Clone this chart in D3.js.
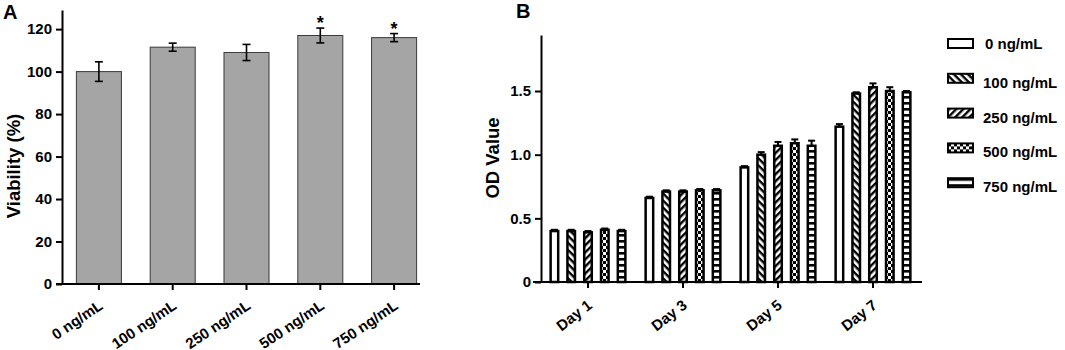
<!DOCTYPE html>
<html>
<head>
<meta charset="utf-8">
<script src="https://cdn.jsdelivr.net/npm/d3@7"></script>
<style>
  body { margin: 0; background: #fff; }
  svg { font-family: "Liberation Sans", Arial, sans-serif; font-weight: bold; }
  .axis path, .axis line { stroke: #000; stroke-width: 2; }
  .axis text { fill: #000; font-weight: bold; }
</style>
</head>
<body>
<script>
// panel A data
var doses = ['0 ng/mL', '100 ng/mL', '250 ng/mL', '500 ng/mL', '750 ng/mL'];
var viability = [100, 111.5, 109, 117, 116];
var viabilityErr = [4.6, 1.9, 3.8, 3.5, 1.9];
var starred = [false, false, false, true, true];
var viabilityTicks = [0, 20, 40, 60, 80, 100, 120];

// panel B data
var days = ['Day 1', 'Day 3', 'Day 5', 'Day 7'];
var odSeries = ['0 ng/mL', '100 ng/mL', '250 ng/mL', '500 ng/mL', '750 ng/mL'];
var odValues = [
  [0.40, 0.40, 0.39, 0.41, 0.40],   // Day 1
  [0.66, 0.71, 0.71, 0.72, 0.72],   // Day 3
  [0.90, 1.00, 1.07, 1.09, 1.07],   // Day 5
  [1.22, 1.48, 1.53, 1.50, 1.49]    // Day 7
];
var odErr = [
  [0.01, 0.01, 0.01, 0.01, 0.01],
  [0.01, 0.01, 0.01, 0.01, 0.01],
  [0.01, 0.02, 0.03, 0.03, 0.04],
  [0.02, 0.01, 0.03, 0.03, 0.01]
];
var odTicks = [0, 0.5, 1.0, 1.5];

var svg = d3.select('body').append('svg')
  .attr('width', 1065)
  .attr('height', 350);

var defs = svg.append('defs');

// fill patterns for panel B
function stripes(id, angle) {
  var p = defs.append('pattern')
    .attr('id', id)
    .attr('patternUnits', 'userSpaceOnUse')
    .attr('width', 5).attr('height', 5)
    .attr('patternTransform', 'rotate(' + angle + ')');
  p.append('rect').attr('width', 5).attr('height', 5).attr('fill', '#fff');
  p.append('rect').attr('width', 5).attr('height', 2.4).attr('fill', '#000');
}
stripes('p100', 45);
stripes('p250', -45);

var chk = defs.append('pattern')
  .attr('id', 'p500')
  .attr('patternUnits', 'userSpaceOnUse')
  .attr('width', 6).attr('height', 6);
chk.append('rect').attr('width', 6).attr('height', 6).attr('fill', '#fff');
chk.append('rect').attr('width', 3).attr('height', 3).attr('fill', '#000');
chk.append('rect').attr('x', 3).attr('y', 3).attr('width', 3).attr('height', 3).attr('fill', '#000');

var hz = defs.append('pattern')
  .attr('id', 'p750')
  .attr('patternUnits', 'userSpaceOnUse')
  .attr('width', 6).attr('height', 6);
hz.append('rect').attr('width', 6).attr('height', 6).attr('fill', '#fff');
hz.append('rect').attr('width', 6).attr('height', 2.6).attr('fill', '#000');

var fills = ['#fff', 'url(#p100)', 'url(#p250)', 'url(#p500)', 'url(#p750)'];

// ---------------- panel A ----------------
var xA = d3.scaleBand()
  .domain(doses)
  .range([62, 431])
  .paddingInner(0.39)
  .paddingOuter(0.195);

var yA = d3.scaleLinear()
  .domain([0, 129])
  .range([284, 10]);

var gA = svg.append('g');

gA.selectAll('rect.bar')
  .data(viability)
  .enter().append('rect')
  .attr('class', 'bar')
  .attr('x', function (d, i) { return xA(doses[i]); })
  .attr('y', function (d) { return yA(d); })
  .attr('width', xA.bandwidth())
  .attr('height', function (d) { return yA(0) - yA(d); })
  .attr('fill', '#a5a5a5')
  .attr('stroke', '#3a3a3a')
  .attr('stroke-width', 1);

// error bars
var errA = gA.selectAll('g.err')
  .data(viability)
  .enter().append('g')
  .attr('class', 'err')
  .attr('stroke', '#000')
  .attr('stroke-width', 1.6);
errA.append('line')
  .attr('x1', function (d, i) { return xA(doses[i]) + xA.bandwidth() / 2; })
  .attr('x2', function (d, i) { return xA(doses[i]) + xA.bandwidth() / 2; })
  .attr('y1', function (d, i) { return yA(d - viabilityErr[i]); })
  .attr('y2', function (d, i) { return yA(d + viabilityErr[i]); });
[1, -1].forEach(function (s) {
  errA.append('line')
    .attr('x1', function (d, i) { return xA(doses[i]) + xA.bandwidth() / 2 - 4; })
    .attr('x2', function (d, i) { return xA(doses[i]) + xA.bandwidth() / 2 + 4; })
    .attr('y1', function (d, i) { return yA(d + s * viabilityErr[i]); })
    .attr('y2', function (d, i) { return yA(d + s * viabilityErr[i]); });
});

// significance stars
var starData = viability
  .map(function (v, i) { return { name: doses[i], top: v + viabilityErr[i], on: starred[i] }; })
  .filter(function (d) { return d.on; });
gA.selectAll('text.star')
  .data(starData)
  .enter().append('text')
  .attr('class', 'star')
  .attr('x', function (d) { return xA(d.name) + xA.bandwidth() / 2; })
  .attr('y', function (d) { return yA(d.top) + 1; })
  .attr('text-anchor', 'middle')
  .attr('font-size', 18)
  .text('*');

// axes A
var yAxisA = d3.axisLeft(yA).tickValues(viabilityTicks).tickSize(6).tickSizeOuter(0);
gA.append('g')
  .attr('class', 'axis')
  .attr('transform', 'translate(62,0)')
  .call(yAxisA)
  .selectAll('text').attr('font-size', 15).attr('dx', -1);

var xAxisA = d3.axisBottom(xA).tickSize(6).tickSizeOuter(0);
var gxA = gA.append('g')
  .attr('class', 'axis')
  .attr('transform', 'translate(0,284)')
  .call(xAxisA);
gxA.select('.domain').remove();
gxA.append('line')
  .attr('x1', 56).attr('x2', 420)
  .attr('stroke', '#000').attr('stroke-width', 2);
gxA.selectAll('text')
  .attr('font-size', 15)
  .attr('text-anchor', 'end')
  .attr('y', 0)
  .attr('dy', 0)
  .attr('transform', 'translate(5,24) rotate(-34)');

gA.append('text')
  .attr('transform', 'translate(20,166) rotate(-90)')
  .attr('text-anchor', 'middle')
  .attr('font-size', 18.5)
  .text('Viability (%)');

gA.append('text')
  .attr('x', 3).attr('y', 19)
  .attr('font-size', 20)
  .text('A');

// ---------------- panel B ----------------
var xB = d3.scaleBand()
  .domain(days)
  .range([540.5, 920.5])
  .paddingInner(0.116)
  .paddingOuter(0.058);

var xSub = d3.scaleBand()
  .domain(odSeries)
  .range([0, xB.bandwidth()])
  .paddingInner(0.55)
  .paddingOuter(0.275);

var yB = d3.scaleLinear()
  .domain([0, 1.94])
  .range([282, 35]);

var gB = svg.append('g');

var groups = gB.selectAll('g.day')
  .data(odValues)
  .enter().append('g')
  .attr('class', 'day')
  .attr('transform', function (d, i) { return 'translate(' + xB(days[i]) + ',0)'; });

// error bars (drawn first so the bar outline covers the lower half)
groups.selectAll('g.err')
  .data(function (d, i) { return d.map(function (v, j) { return { v: v, e: odErr[i][j], s: odSeries[j] }; }); })
  .enter().append('g')
  .attr('class', 'err')
  .attr('stroke', '#000')
  .attr('stroke-width', 2)
  .each(function (d) {
    var cx = xSub(d.s) + xSub.bandwidth() / 2;
    var g = d3.select(this);
    g.append('line').attr('x1', cx).attr('x2', cx).attr('y1', yB(d.v)).attr('y2', yB(d.v + d.e));
    g.append('line').attr('x1', cx - 3.5).attr('x2', cx + 3.5).attr('y1', yB(d.v + d.e)).attr('y2', yB(d.v + d.e));
  });

groups.selectAll('rect')
  .data(function (d) { return d; })
  .enter().append('rect')
  .attr('x', function (d, j) { return xSub(odSeries[j]); })
  .attr('y', function (d) { return yB(d); })
  .attr('width', xSub.bandwidth())
  .attr('height', function (d) { return yB(0) - yB(d); })
  .attr('fill', function (d, j) { return fills[j]; })
  .attr('stroke', '#000')
  .attr('stroke-width', 2.5);

// axes B
var yAxisB = d3.axisLeft(yB)
  .tickValues(odTicks)
  .tickFormat(function (d) { return d === 0 ? '0' : d3.format('.1f')(d); })
  .tickSize(6).tickSizeOuter(0);
gB.append('g')
  .attr('class', 'axis')
  .attr('transform', 'translate(541,0)')
  .call(yAxisB)
  .selectAll('text').attr('font-size', 15).attr('dx', -1);

var xAxisB = d3.axisBottom(xB).tickSize(6).tickSizeOuter(0);
var gxB = gB.append('g')
  .attr('class', 'axis')
  .attr('transform', 'translate(0,282)')
  .call(xAxisB);
gxB.select('.domain').remove();
gxB.append('line')
  .attr('x1', 533).attr('x2', 922)
  .attr('stroke', '#000').attr('stroke-width', 2);
gxB.selectAll('text')
  .attr('font-size', 15)
  .attr('text-anchor', 'end')
  .attr('y', 0)
  .attr('dy', 0)
  .attr('transform', 'translate(5,25) rotate(-38)');

gB.append('text')
  .attr('transform', 'translate(499,158) rotate(-90)')
  .attr('text-anchor', 'middle')
  .attr('font-size', 18.5)
  .text('OD Value');

gB.append('text')
  .attr('x', 516).attr('y', 18)
  .attr('font-size', 20)
  .text('B');

// legend
var legend = gB.selectAll('g.legend')
  .data(odSeries)
  .enter().append('g')
  .attr('class', 'legend')
  .attr('transform', function (d, i) { return 'translate(948,' + (39 + i * 34.8) + ')'; });
legend.append('rect')
  .attr('width', 25).attr('height', 9)
  .attr('fill', function (d, i) { return fills[i]; })
  .attr('stroke', '#000')
  .attr('stroke-width', 2);
legend.append('text')
  .attr('x', function (d, i) { return i === 0 ? 37 : 35; })
  .attr('y', function (d, i) { return i === 0 ? 10 : 14; })
  .attr('font-size', 15)
  .text(function (d) { return d; });
</script>
</body>
</html>
